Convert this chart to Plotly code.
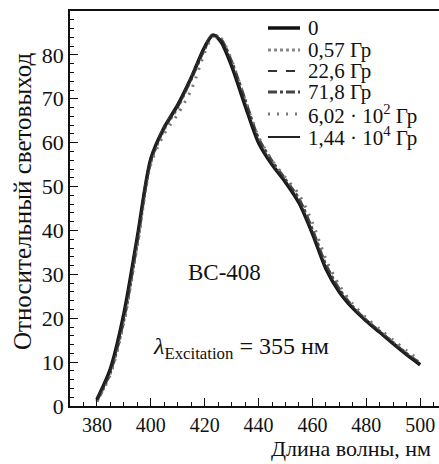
import plotly.graph_objects as go

wavelength = [380, 385, 390, 395, 400, 405, 410, 415, 420, 423, 426, 430, 435,
              440, 445, 450, 455, 460, 465, 470, 475, 480, 485, 490, 495, 500]

s_0 = [1.5, 8.5, 21.0, 38.5, 56.3, 63.5, 68.6, 74.8, 81.8, 84.5, 83.0, 77.5, 68.5,
       60.0, 55.0, 51.0, 46.3, 39.3, 31.3, 26.0, 22.3, 19.4, 16.8, 14.2, 11.7, 9.4]
s_057 = [1.0, 7.5, 19.5, 37.0, 55.5, 63.0, 68.0, 74.5, 81.3, 84.3, 83.5, 78.3, 69.5,
         60.8, 55.6, 51.5, 47.0, 40.0, 32.0, 26.5, 22.6, 19.6, 17.0, 14.5, 12.0, 9.8]
s_226 = [1.2, 8.0, 20.2, 37.8, 56.0, 63.2, 68.2, 74.6, 81.5, 84.5, 83.3, 78.0, 69.0,
         60.5, 55.2, 51.2, 46.7, 39.6, 31.7, 26.2, 22.4, 19.4, 16.9, 14.3, 11.8, 9.6]
s_718 = [1.3, 7.8, 19.8, 37.5, 55.8, 63.4, 68.3, 74.5, 81.4, 84.6, 83.6, 78.5, 69.8,
         61.0, 55.8, 51.6, 47.2, 40.2, 32.2, 26.6, 22.6, 19.5, 17.0, 14.4, 11.9, 9.7]
s_602 = [1.0, 7.2, 19.0, 36.5, 55.0, 62.0, 66.5, 72.0, 80.5, 84.2, 83.8, 78.8, 69.8,
         61.3, 56.0, 52.0, 48.2, 41.8, 33.5, 27.5, 23.2, 20.1, 17.5, 15.0, 12.6, 10.4]
s_144 = [1.4, 8.3, 20.7, 38.3, 56.3, 63.3, 68.4, 74.7, 81.6, 84.4, 83.4, 77.8, 68.8,
         60.2, 55.0, 51.1, 46.4, 39.3, 31.4, 26.1, 22.3, 19.3, 16.8, 14.2, 11.7, 9.5]

names = ["0", "0,57 Гр", "22,6 Гр", "71,8 Гр",
         "6,02 · 10<sup>2</sup> Гр", "1,44 · 10<sup>4</sup> Гр"]
series = [s_0, s_057, s_226, s_718, s_602, s_144]
styles = [
    dict(color="#111111", width=3.5, dash="solid"),
    dict(color="#888888", width=3, dash="dot"),
    dict(color="#333333", width=2, dash="dash"),
    dict(color="#444444", width=3, dash="dashdot"),
    dict(color="#777777", width=3, dash="2px,7px"),
    dict(color="#222222", width=2, dash="solid"),
]

font = "Liberation Serif"

fig = go.Figure()
for n, s, st in zip(names, series, styles):
    fig.add_trace(go.Scatter(x=wavelength, y=s, mode="lines", name=n, showlegend=False,
                             line=dict(shape="spline", smoothing=0.8, **st)))

# manual legend (paper coordinates of the plot area)
H = 395.0
W = 369.0
row_px = [28, 50, 71, 92, 114, 137]
for n, st, ry in zip(names, styles, row_px):
    yp = 1 - (ry - 11) / H
    fig.add_shape(type="line", xref="paper", yref="paper",
                  x0=(268 - 70) / W, x1=(300 - 70) / W, y0=yp, y1=yp,
                  line=dict(color=st["color"], width=st["width"], dash=st["dash"]))
    fig.add_annotation(text=n, xref="paper", yref="paper",
                       x=(306 - 70) / W, y=yp, xanchor="left", yanchor="middle",
                       showarrow=False, font=dict(family=font, size=21, color="#111"))

fig.update_layout(
    width=439, height=464,
    margin=dict(l=70, r=0, t=11, b=58),
    paper_bgcolor="white", plot_bgcolor="white",
    font=dict(family=font, size=21, color="#111111"),
    showlegend=False,
    xaxis=dict(range=[370, 507], tickvals=[380, 400, 420, 440, 460, 480, 500],
               ticks="inside", ticklen=8, tickwidth=1, tickcolor="#111",
               tickfont=dict(family=font, size=20), ticklabelstandoff=0,
               showline=True, linecolor="#111", linewidth=1.5, mirror=True,
               showgrid=False, zeroline=False,
               minor=dict(dtick=5, tick0=370, ticks="inside", ticklen=4, tickcolor="#111")),
    yaxis=dict(range=[0, 90], dtick=10, ticks="inside", ticklen=8, tickwidth=1,
               tickcolor="#111", showline=True, linecolor="#111", linewidth=1.5,
               tickfont=dict(family=font, size=22),
               showgrid=False, zeroline=False,
               minor=dict(dtick=2, ticks="inside", ticklen=4, tickcolor="#111")),
)

fig.add_annotation(text="Относительный световыход", xref="paper", yref="paper",
                   x=(22 - 70) / W, y=1 - (201 - 11) / H, textangle=-90,
                   xanchor="center", yanchor="middle",
                   showarrow=False, font=dict(family=font, size=25))
fig.add_annotation(text="Длина волны, нм", xref="paper", yref="paper",
                   x=0.985, y=-(463 - 406) / H, xanchor="right", yanchor="bottom",
                   showarrow=False, font=dict(family=font, size=22))
fig.add_annotation(text="BC-408", xref="x", yref="y", x=427.5, y=30.5,
                   showarrow=False, font=dict(family=font, size=23))
fig.add_annotation(text="<i>λ</i><sub>Excitation</sub> = 355 нм", xref="x", yref="y",
                   x=433.4, y=13.2, showarrow=False, font=dict(family=font, size=24))

fig.write_html("out.html")
